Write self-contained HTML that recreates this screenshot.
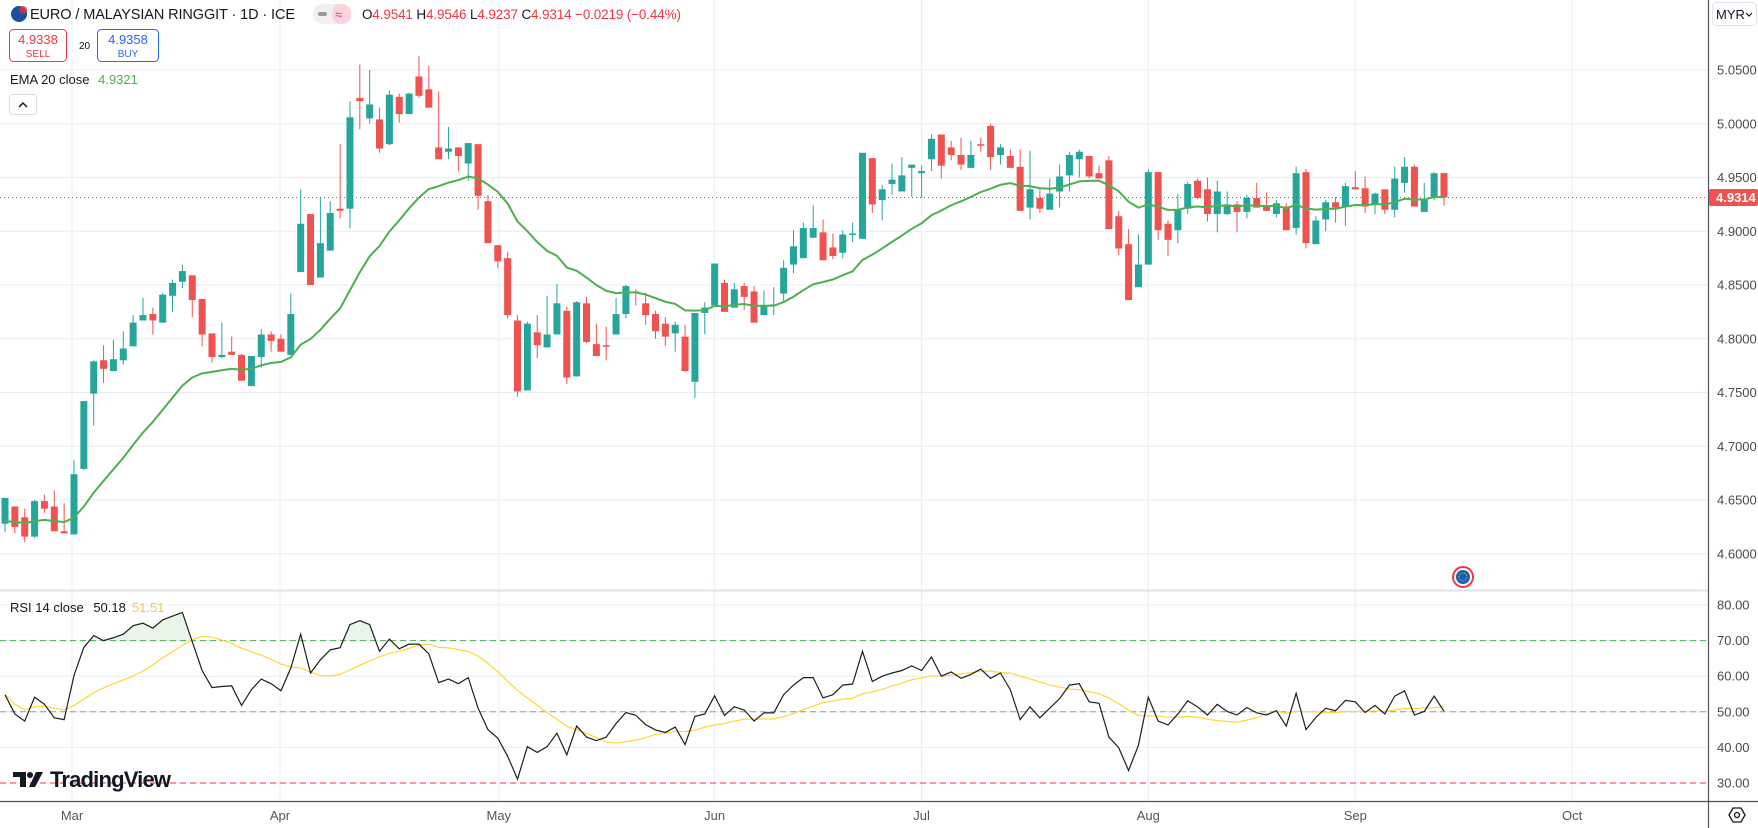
<!DOCTYPE html>
<html><head><meta charset="utf-8"><style>
html,body{margin:0;padding:0;background:#fff;}
svg{display:block;font-family:"Liberation Sans",sans-serif;}
</style></head><body>
<svg id="chart" width="1758" height="828" viewBox="0 0 1758 828" xmlns="http://www.w3.org/2000/svg">
<g id="grid"></g>
<g id="rsiPane"></g>
<g id="candles"></g>
<g id="overlay"></g>
<g id="axes"></g>
</svg>
<script>
const opens=[4.628,4.644,4.634,4.616,4.649,4.644,4.621,4.618,4.679,4.749,4.780,4.770,4.780,4.793,4.817,4.823,4.815,4.840,4.853,4.859,4.837,4.805,4.783,4.788,4.785,4.756,4.783,4.804,4.800,4.785,4.862,4.916,4.857,4.882,4.921,4.921,5.024,5.005,5.004,4.981,5.025,5.009,5.044,5.032,4.978,4.974,4.978,4.963,4.981,4.928,4.887,4.875,4.817,4.752,4.806,4.792,4.804,4.826,4.765,4.833,4.795,4.794,4.804,4.823,4.844,4.833,4.823,4.814,4.805,4.802,4.760,4.824,4.831,4.852,4.829,4.849,4.844,4.822,4.831,4.842,4.869,4.875,4.894,4.899,4.885,4.880,4.897,4.893,4.968,4.929,4.944,4.937,4.959,4.954,4.967,4.990,4.978,4.971,4.959,4.981,4.998,4.971,4.970,4.960,4.922,4.931,4.920,4.937,4.952,4.967,4.970,4.954,4.966,4.914,4.888,4.848,4.869,4.955,4.907,4.901,4.921,4.947,4.939,4.916,4.916,4.925,4.918,4.931,4.924,4.916,4.923,4.903,4.955,4.888,4.911,4.927,4.923,4.941,4.940,4.925,4.939,4.920,4.945,4.960,4.918,4.931,4.9541];
const highs=[4.652,4.644,4.642,4.650,4.655,4.659,4.647,4.687,4.742,4.780,4.794,4.799,4.807,4.822,4.838,4.829,4.843,4.855,4.869,4.859,4.837,4.805,4.815,4.802,4.786,4.784,4.809,4.807,4.804,4.842,4.939,4.916,4.932,4.928,4.981,5.021,5.055,5.050,5.015,5.031,5.028,5.029,5.063,5.054,5.030,4.997,4.978,4.982,4.981,4.934,4.887,4.881,4.822,4.816,4.822,4.840,4.851,4.830,4.835,4.839,4.814,4.811,4.838,4.850,4.846,4.843,4.826,4.820,4.816,4.813,4.824,4.834,4.870,4.855,4.852,4.852,4.849,4.845,4.848,4.873,4.901,4.908,4.924,4.911,4.898,4.901,4.908,4.973,4.968,4.943,4.963,4.969,4.962,4.961,4.990,4.990,4.984,4.987,4.984,4.987,5.000,4.981,4.976,4.976,4.975,4.939,4.949,4.962,4.974,4.976,4.970,4.961,4.970,4.919,4.902,4.897,4.958,4.955,4.910,4.935,4.946,4.949,4.950,4.947,4.937,4.928,4.934,4.945,4.936,4.929,4.926,4.960,4.958,4.914,4.929,4.932,4.945,4.956,4.951,4.936,4.939,4.960,4.969,4.962,4.945,4.955,4.9546];
const lows=[4.620,4.619,4.611,4.615,4.638,4.621,4.619,4.618,4.678,4.719,4.759,4.770,4.776,4.793,4.817,4.804,4.815,4.825,4.847,4.820,4.793,4.778,4.782,4.785,4.761,4.756,4.773,4.788,4.788,4.785,4.862,4.850,4.857,4.882,4.912,4.903,4.995,5.000,4.973,4.980,5.001,5.009,5.024,5.015,4.967,4.967,4.956,4.947,4.920,4.889,4.866,4.819,4.746,4.752,4.782,4.792,4.804,4.758,4.765,4.796,4.784,4.780,4.804,4.819,4.831,4.813,4.800,4.793,4.788,4.769,4.745,4.804,4.831,4.825,4.829,4.827,4.815,4.822,4.822,4.834,4.861,4.875,4.894,4.873,4.874,4.875,4.890,4.893,4.917,4.910,4.934,4.937,4.932,4.931,4.956,4.949,4.966,4.957,4.959,4.974,4.957,4.962,4.959,4.919,4.911,4.917,4.920,4.922,4.937,4.950,4.949,4.949,4.902,4.878,4.836,4.848,4.869,4.892,4.877,4.889,4.916,4.930,4.909,4.899,4.915,4.899,4.912,4.922,4.919,4.913,4.901,4.897,4.884,4.888,4.900,4.908,4.905,4.939,4.917,4.916,4.916,4.913,4.936,4.923,4.918,4.929,4.9237];
const closes=[4.652,4.625,4.616,4.649,4.642,4.621,4.619,4.674,4.742,4.779,4.772,4.781,4.791,4.815,4.822,4.817,4.841,4.852,4.863,4.836,4.804,4.783,4.785,4.785,4.761,4.784,4.804,4.798,4.788,4.823,4.907,4.850,4.889,4.917,4.919,5.006,5.021,5.018,4.977,5.027,5.009,5.028,5.026,5.015,4.967,4.977,4.970,4.982,4.933,4.889,4.872,4.822,4.751,4.814,4.794,4.804,4.833,4.764,4.834,4.797,4.784,4.793,4.823,4.849,4.843,4.822,4.807,4.802,4.813,4.770,4.824,4.829,4.870,4.825,4.846,4.839,4.815,4.831,4.832,4.866,4.886,4.903,4.903,4.873,4.877,4.897,4.898,4.973,4.925,4.939,4.948,4.952,4.962,4.956,4.986,4.961,4.971,4.962,4.971,4.980,4.969,4.978,4.959,4.919,4.939,4.921,4.935,4.951,4.971,4.974,4.951,4.949,4.902,4.884,4.836,4.869,4.955,4.901,4.892,4.920,4.944,4.931,4.916,4.937,4.925,4.918,4.931,4.922,4.919,4.926,4.901,4.954,4.889,4.910,4.927,4.922,4.942,4.939,4.923,4.935,4.920,4.949,4.960,4.923,4.929,4.954,4.9314];
const rsiValues=[54.8,49.4,47.4,54.1,52.1,48.3,47.8,60.2,68.1,71.4,70,70.8,71.8,74.2,74.9,73.5,75.8,76.9,77.9,69.7,61.6,56.8,57.1,57.3,51.8,56.2,59.2,57.9,55.9,62.3,71.8,60.9,64.6,67.4,68,74.5,75.6,74.5,67,70.4,67.7,69,69,66.3,58.2,59.2,57.9,59.6,51,45,42.6,37.5,31.1,40.2,38.6,40.2,44,37.9,46,42.9,41.9,42.9,46.7,49.8,49,46.4,44.9,44.2,45.7,40.8,48.7,49.4,54.5,49,51.4,50.5,47.4,49.7,49.7,54.8,57.5,59.6,59.6,53.9,54.8,57.5,57.8,67,58.5,60,60.9,61.6,62.9,61.6,65.4,60,61.2,59.4,60.5,62,59.4,60.9,56.2,47.8,51.4,48.3,51,53.7,57.5,57.9,52.8,52.4,42.9,39.9,33.5,40.6,54.1,47.4,46.3,49.4,53.1,51.4,49.1,52.1,50.1,49.1,51.2,49.7,49.1,50.3,46,55.2,45,48.4,51,50.3,53.2,52.8,49.8,51.8,49.4,54.4,55.9,49.1,50.1,54.4,50.18];
const priceTicks=["5.0500","5.0000","4.9500","4.9000","4.8500","4.8000","4.7500","4.7000","4.6500","4.6000"];
const rsiTicks=["80.00","70.00","60.00","50.00","40.00","30.00"];
const monthLabels=["Mar","Apr","May","Jun","Jul","Aug","Sep","Oct"];
const monthIndex=[6.8,27.9,50.1,72,93,116,137,159];

const NS="http://www.w3.org/2000/svg";
const PLOT_R=1708;
function X(i){return 5+i*9.856;}
function PY(p){return 70+(5.05-p)*1075.1;}
function RY(v){return 605+(80-v)*3.56;}
function mk(tag,attrs,parent){const e=document.createElementNS(NS,tag);for(const k in attrs)e.setAttribute(k,attrs[k]);parent.appendChild(e);return e;}
const grid=document.getElementById('grid'),rsiG=document.getElementById('rsiPane'),cg=document.getElementById('candles'),ov=document.getElementById('overlay'),ax=document.getElementById('axes');
const GC="#e8eef4";

// horizontal price grid
priceTicks.forEach((t)=>{const y=PY(parseFloat(t));
 const l=mk('line',{x1:0,x2:PLOT_R,y1:y,y2:y,stroke:GC,'stroke-width':1},grid);
 
 
 const tx=mk('text',{x:1717,y:y+4.5,'font-size':13,fill:'#4a4a4a'},ax);tx.textContent=t;
 
 
});
// month grid + labels
monthLabels.forEach((m,k)=>{const x=X(monthIndex[k]);
 const l=mk('line',{x1:x,x2:x,y1:0,y2:801,stroke:GC,'stroke-width':1},grid);
 
 
 const tx=mk('text',{x:x,y:820,'font-size':13,fill:'#555','text-anchor':'middle'},ax);tx.textContent=m;
 
 
});
// pane separator
let sep=mk('line',{x1:0,x2:1758,y1:590.5,y2:590.5,stroke:'#e0e3eb','stroke-width':2},grid);


// rsi grid
rsiTicks.forEach(t=>{const v=parseFloat(t),y=RY(v);
 let col=GC,dash=null;
 if(v===70){col='#4caf50';dash='6,4';} if(v===50){col='#9598a1';dash='6,4';} if(v===30){col='#f23645';dash='6,4';}
 const a={x1:0,x2:PLOT_R,y1:y,y2:y,stroke:col,'stroke-width':1};if(dash)a['stroke-dasharray']=dash;
 if(v===70||v===50||v===30){mk('line',{x1:0,x2:PLOT_R,y1:y,y2:y,stroke:GC,'stroke-width':1},grid);}
 const l=mk('line',a,rsiG);
 
 
 const tx=mk('text',{x:1717,y:y+4.5,'font-size':13,fill:'#4a4a4a'},ax);tx.textContent=t;
 
 
});
// RSI overbought fill
const defs=mk('defs',{},rsiG);
const cp=mk('clipPath',{id:'ob'},defs);
mk('rect',{x:0,y:0,width:PLOT_R,height:RY(70)},cp);
let fillPts=[X(0)+','+RY(70)];rsiValues.forEach((v,i)=>fillPts.push(X(i)+','+RY(v)));fillPts.push(X(rsiValues.length-1)+','+RY(70));
const fp=mk('polygon',{points:fillPts.join(' '),fill:'rgba(76,175,80,0.13)','clip-path':'url(#ob)'},rsiG);


// RSI MA (SMA14)
let maPts=[];rsiValues.forEach((v,i)=>{const s=Math.max(0,i-13);let sum=0;for(let j=s;j<=i;j++)sum+=rsiValues[j];maPts.push(X(i)+','+RY(sum/(i-s+1)));});
const ma=mk('polyline',{points:maPts.join(' '),fill:'none',stroke:'#fdd835','stroke-width':1.2},rsiG);


const rl=mk('polyline',{points:rsiValues.map((v,i)=>X(i)+','+RY(v)).join(' '),fill:'none',stroke:'#1e1e1e','stroke-width':1.2},rsiG);



// last price line
const lp=closes[closes.length-1];
const lpl=mk('line',{x1:0,x2:PLOT_R,y1:PY(lp),y2:PY(lp),stroke:'#f23645','stroke-width':1,'stroke-dasharray':'1,3'},grid);



// candles
closes.forEach((c,i)=>{const o=opens[i],h=highs[i],l=lows[i];const up=c>=o;const col=up?'#26a69a':'#ef5350';const x=X(i);
 const w=mk('line',{x1:x,x2:x,y1:PY(h),y2:PY(l),stroke:col,'stroke-width':1},cg);
 
 
 const top=PY(Math.max(o,c)),bh=Math.max(1.5,PY(Math.min(o,c))-top);
 const b=mk('rect',{x:x-3.5,y:top,width:7,height:bh,fill:col},cg);
 
 
});
// EMA 20
let ema=opens[0];const k=2/21;let emaPts=[];
closes.forEach((c,i)=>{ema=c*k+ema*(1-k);emaPts.push(X(i)+','+PY(ema));});
const el=mk('polyline',{points:emaPts.join(' '),fill:'none',stroke:'#4caf50','stroke-width':2},cg);



// axes lines
let a1=mk('line',{x1:PLOT_R+0.5,x2:PLOT_R+0.5,y1:0,y2:828,stroke:'#50535e','stroke-width':1.2},ax);


let a2=mk('line',{x1:0,x2:1758,y1:801.5,y2:801.5,stroke:'#50535e','stroke-width':1.2},ax);


mk('rect',{x:PLOT_R+1,y:0,width:50,height:801,fill:'#fff'},ax).parentNode.insertBefore(ax.lastChild,ax.firstChild);
// last price tag
const tag=mk('rect',{x:1709,y:PY(lp)-8.5,width:49,height:17,fill:'#ef5350',rx:2},ax);


const tt=mk('text',{x:1716,y:PY(lp)+4.5,'font-size':13,'font-weight':'bold',fill:'#fff'},ax);tt.textContent=lp.toFixed(4);


</script>
<div style="position:absolute;left:0;top:0;width:0;height:0;">
<svg style="position:absolute;left:0;top:0;overflow:visible" width="1" height="1" xmlns="http://www.w3.org/2000/svg" font-family="Liberation Sans, sans-serif">
 <g><circle cx="19" cy="14" r="8" fill="#1a4fa0"/><circle cx="23" cy="10" r="4" fill="#d33" opacity="0.8"/></g>
 <text x="30" y="19" font-size="14.5" fill="#131722" textLength="265">EURO / MALAYSIAN RINGGIT · 1D · ICE</text>
 <rect x="313" y="4" width="38" height="20" rx="10" fill="#f0f0f0"/>
 <rect x="332" y="4" width="19" height="20" rx="9" fill="#fbd3dc"/>
 <rect x="318" y="12" width="9" height="4" rx="2" fill="#999"/>
 <text x="335" y="19" font-size="13" fill="#e0406a">≈</text>
 <text x="362" y="19" font-size="13.5" fill="#f23645" textLength="319"><tspan fill="#131722">O</tspan>4.9541 <tspan fill="#131722">H</tspan>4.9546 <tspan fill="#131722">L</tspan>4.9237 <tspan fill="#131722">C</tspan>4.9314 −0.0219 (−0.44%)</text>
 <rect x="9.5" y="29.5" width="57" height="32" rx="4" fill="#fff" stroke="#f23645"/>
 <text x="38" y="44" font-size="13" fill="#f23645" text-anchor="middle">4.9338</text>
 <text x="38" y="57" font-size="10" fill="#f23645" text-anchor="middle">SELL</text>
 <text x="79" y="49" font-size="10" fill="#131722">20</text>
 <rect x="97.5" y="29.5" width="61" height="32" rx="4" fill="#fff" stroke="#2962ff"/>
 <text x="128" y="44" font-size="13" fill="#2962ff" text-anchor="middle">4.9358</text>
 <text x="128" y="57" font-size="10" fill="#2962ff" text-anchor="middle">BUY</text>
 <text x="10" y="84" font-size="13" fill="#131722">EMA 20 close <tspan fill="#4caf50" dx="5">4.9321</tspan></text>
 <rect x="9.5" y="94.5" width="27" height="20" rx="3" fill="#fff" stroke="#ddd"/>
 <path d="M19 107 L23 103 L27 107" fill="none" stroke="#131722" stroke-width="1.5"/>
 <text x="10" y="612" font-size="13" fill="#131722">RSI 14 close <tspan dx="6">50.18</tspan><tspan fill="#f7c948" dx="6">51.51</tspan></text>
 <g>
  <path d="M13 772 H26 V787 H20 V777 H13 Z" fill="#131722"/><circle cx="30" cy="775" r="3" fill="#131722"/><path d="M36 772 H43 L35 787 H29 Z" fill="#131722"/>
  <text x="50" y="787" font-size="22" font-weight="bold" fill="#131722" textLength="121">TradingView</text>
 </g>
 <g><rect x="1712.5" y="2.5" width="44" height="23" rx="4" fill="#fff" stroke="#e0e3eb"/><text x="1716" y="19" font-size="13" fill="#131722">MYR</text><path d="M1746 13 L1749 16 L1752 13" fill="none" stroke="#131722" stroke-width="1.2"/></g>
 <g><circle cx="1463" cy="577" r="10" fill="#fff" stroke="#f23645" stroke-width="2"/><circle cx="1463" cy="577" r="7" fill="#1a5fb4"/><circle cx="1463" cy="577" r="4" fill="none" stroke="#f5c400" stroke-width="1" stroke-dasharray="1,1.5"/></g>
 <g><path d="M1729 815 L1733 808 L1741 808 L1745 815 L1741 822 L1733 822 Z" fill="none" stroke="#131722" stroke-width="1.3"/><circle cx="1737" cy="815" r="2.5" fill="none" stroke="#131722" stroke-width="1.3"/></g>
</svg>
</div>
</body></html>
